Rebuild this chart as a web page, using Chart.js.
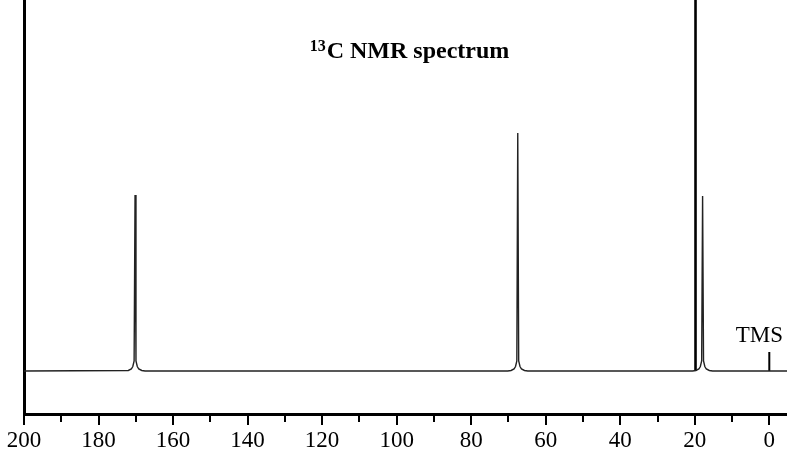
<!DOCTYPE html>
<html>
<head>
<meta charset="utf-8">
<script src="https://cdn.jsdelivr.net/npm/chart.js@4"></script>
<style>
  html, body { margin: 0; padding: 0; background: #fff; }
  canvas { display: block; }
</style>
</head>
<body>
<canvas id="nmrChart" width="787" height="452"></canvas>
<script>
// chemical shift (ppm) and intensity of the traced spectrum
const traceShift = [
    200, 172.0, 171.2, 170.8, 170.45, 170.2, 169.95, 169.6, 169.2, 168.4, 167.5,
    70.2, 69.3, 68.5, 68.1, 67.75, 67.5, 67.25, 66.9, 66.5, 65.7, 64.8,
    20.6, 19.7, 18.9, 18.5, 18.15, 17.9, 17.65, 17.3, 16.9, 16.1, 15.2,
    -4.75,
];
const traceIntensity = [
    0, 0.5, 2, 4.5, 10, 176, 10, 4.5, 2, 0.5, 0,
    0, 0.5, 2, 4.5, 10, 238, 10, 4.5, 2, 0.5, 0,
    0, 0.5, 2, 4.5, 10, 175, 10, 4.5, 2, 0.5, 0,
    0,
];
// solvent line near 20 ppm (runs off the top)
const solventShift = [19.8, 19.8];
const solventIntensity = [0, 400];
// TMS reference
const tmsShift = [0, 0];
const tmsIntensity = [0, 19];

const majorTicks = [200, 180, 160, 140, 120, 100, 80, 60, 40, 20, 0];
const minorTicks = [190, 170, 150, 130, 110, 90, 70, 50, 30, 10];

const serif = '"Liberation Serif", "Times New Roman", serif';

function toPoints(xs, ys) {
    return xs.map((x, i) => ({ x: x, y: ys[i] }));
}

const extras = {
    id: 'extras',
    afterDraw(chart) {
        const ctx = chart.ctx;
        const xs = chart.scales.x;
        const area = chart.chartArea;
        ctx.save();
        // minor ticks
        ctx.strokeStyle = '#000';
        ctx.lineWidth = 2;
        minorTicks.forEach(v => {
            const px = Math.round(xs.getPixelForValue(v));
            ctx.beginPath();
            ctx.moveTo(px, area.bottom);
            ctx.lineTo(px, area.bottom + 8);
            ctx.stroke();
        });
        // TMS label
        ctx.fillStyle = '#000';
        ctx.font = '23px ' + serif;
        ctx.textAlign = 'center';
        ctx.textBaseline = 'alphabetic';
        ctx.fillText('TMS', xs.getPixelForValue(0) - 10, 342);
        // title with superscript
        const sup = '13';
        const main = 'C NMR spectrum';
        ctx.font = 'bold 16px ' + serif;
        const wSup = ctx.measureText(sup).width;
        ctx.font = 'bold 24px ' + serif;
        const wMain = ctx.measureText(main).width;
        const start = 409 - (wSup + wMain) / 2;
        ctx.textAlign = 'left';
        ctx.font = 'bold 16px ' + serif;
        ctx.fillText(sup, start, 51);
        ctx.font = 'bold 24px ' + serif;
        ctx.fillText(main, start + wSup + 1, 58);
        ctx.restore();
    }
};

new Chart(document.getElementById('nmrChart'), {
    type: 'line',
    data: {
        datasets: [
            {
                data: toPoints(traceShift, traceIntensity),
                borderColor: '#222',
                borderWidth: 1.4,
                pointRadius: 0,
                tension: 0,
            },
            {
                data: toPoints(solventShift, solventIntensity),
                borderColor: '#000',
                borderWidth: 2.6,
                pointRadius: 0,
            },
            {
                data: toPoints(tmsShift, tmsIntensity),
                borderColor: '#000',
                borderWidth: 2,
                pointRadius: 0,
            },
        ],
    },
    options: {
        responsive: false,
        animation: false,
        events: [],
        layout: { padding: { left: 24, top: 0, right: 0, bottom: 0 } },
        plugins: {
            legend: { display: false },
            tooltip: { enabled: false },
        },
        scales: {
            x: {
                type: 'linear',
                reverse: true,
                min: -4.75,
                max: 200,
                afterFit: s => { s.height = 38; },
                afterBuildTicks: s => { s.ticks = majorTicks.map(v => ({ value: v })); },
                ticks: {
                    includeBounds: false,
                    autoSkip: false,
                    maxRotation: 0,
                    padding: 2,
                    color: '#000',
                    font: { family: serif, size: 23 },
                },
                grid: {
                    drawOnChartArea: false,
                    drawTicks: true,
                    tickLength: 11,
                    lineWidth: 2,
                    color: '#000',
                },
                border: { display: true, width: 3, color: '#000' },
            },
            y: {
                min: -43,
                max: 371,
                afterFit: s => { s.width = 0; },
                ticks: { display: false },
                grid: { drawOnChartArea: false, drawTicks: false, color: '#000' },
                border: { display: true, width: 3, color: '#000' },
            },
        },
    },
    plugins: [extras],
});
</script>
</body>
</html>
